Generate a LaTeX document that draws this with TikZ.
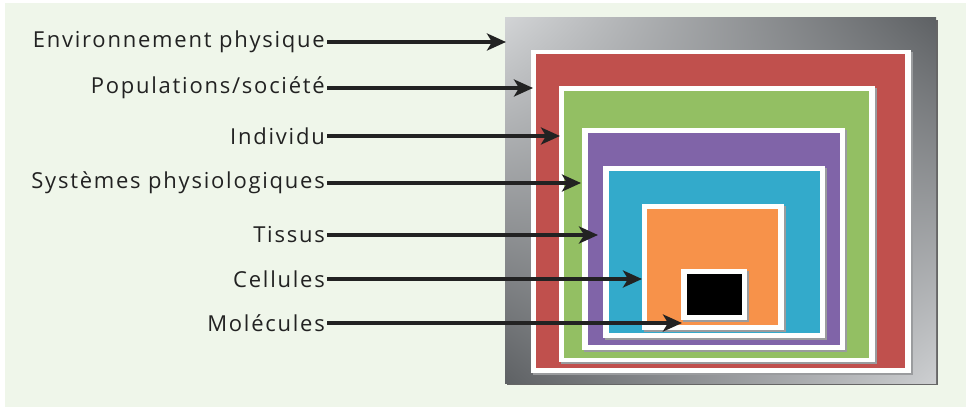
\documentclass[tikz,border=0pt]{standalone}
\usepackage{fontspec}
\setmainfont{Open Sans}
\newfontfamily\labfont[LetterSpace=8]{Open Sans}
\usetikzlibrary{arrows.meta,shadings}
\definecolor{bgc}{HTML}{EFF6EA}
\definecolor{txt}{HTML}{222222}
\definecolor{redc}{HTML}{C0504D}
\definecolor{greenc}{HTML}{93BF63}
\definecolor{purplec}{HTML}{8064A8}
\definecolor{bluec}{HTML}{33AACB}
\definecolor{orangec}{HTML}{F7924A}
\definecolor{grayl}{HTML}{CDCFD1}
\definecolor{grayd}{HTML}{5E6164}
\definecolor{shadowc}{HTML}{9A9C9E}
\tikzset{
  lab/.style={anchor=east, inner sep=0pt, text=txt, font=\labfont\fontsize{22}{26}\selectfont},
  arr/.style={draw=txt, line width=3.6pt, -{Stealth[length=19pt,width=17pt,inset=5pt]}},
  wframe/.style={fill=white!95!bgc},
  shad/.style={fill=shadowc},
}
\begin{document}
\begin{tikzpicture}[x=1pt,y=-1pt]
\useasboundingbox (0,0) rectangle (969,409);
\fill[white] (0,0) rectangle (969,409);
\fill[bgc] (5,3) rectangle (966,407);
% outer gray frame
\fill[black!60] (507,20) rectangle (938,385);
\shade[upper left=grayl!90!white, upper right=grayd, lower left=grayd, lower right=grayl] (505,18) rectangle (936,383);
% red
\fill[shad] (533,52) rectangle (913,375);
\fill[wframe] (531,50) rectangle (911,373);
\fill[redc] (536,54) rectangle (905,368);
% green
\fill[shad] (561,88) rectangle (877,364);
\fill[wframe] (559,86) rectangle (875,362);
\fill[greenc] (564,91) rectangle (869,358);
% purple
\fill[shad] (584,130) rectangle (847,352);
\fill[wframe] (582,128) rectangle (845,350);
\fill[purplec] (588,133) rectangle (840,345);
% blue
\fill[shad] (605,168) rectangle (827,340);
\fill[wframe] (603,166) rectangle (825,338);
\fill[bluec] (609,171) rectangle (820,333);
% orange
\fill[shad] (644,206) rectangle (786,332);
\fill[wframe] (642,204) rectangle (784,330);
\fill[orangec] (647,209) rectangle (778,325);
% black
\fill[shad] (683,271) rectangle (749,322);
\fill[wframe] (681,269) rectangle (747,320);
\fill[black] (687,274) rectangle (742,315);
% labels
\node[lab] (env) at (325,42) {Environnement physique};
\node[lab] (pop) at (325,88) {Populations/société};
\node[lab] (ind) at (325,136) {Individu};
\node[lab] (sys) at (325,183) {Systèmes physiologiques};
\node[lab] (tis) at (325,235) {Tissus};
\node[lab] (cel) at (325,279) {Cellules};
\node[lab] (mol) at (325,323) {Molécules};
\coordinate (tenv) at (506,42);
\coordinate (tpop) at (533,88);
\coordinate (tind) at (560,136);
\coordinate (tsys) at (581,183);
\coordinate (ttis) at (598,235);
\coordinate (tcel) at (642,279);
\coordinate (tmol) at (682,323);
\draw[arr] (env.east) ++(2,0) -- (tenv);
\draw[arr] (pop.east) ++(2,0) -- (tpop);
\draw[arr] (ind.east) ++(2,0) -- (tind);
\draw[arr] (sys.east) ++(2,0) -- (tsys);
\draw[arr] (tis.east) ++(2,0) -- (ttis);
\draw[arr] (cel.east) ++(2,0) -- (tcel);
\draw[arr] (mol.east) ++(2,0) -- (tmol);
\end{tikzpicture}
\end{document}
